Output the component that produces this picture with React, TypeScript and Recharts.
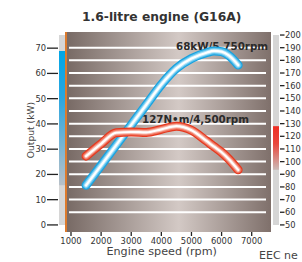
import {
  LineChart,
  Line,
  XAxis,
  YAxis,
  CartesianGrid,
  ReferenceArea,
  ReferenceLine,
} from "recharts";

const rpm = [1500, 2000, 2500, 3000, 3500, 4000, 4500, 5000, 5500, 5750, 6000, 6250, 6550];
const powerKw = [15.7, 23.6, 31.6, 39.6, 47.6, 55.6, 62.0, 65.9, 68.2, 68.9, 68.6, 67.0, 63.3];
const torqueNm = [104.3, 114.1, 122.8, 123.4, 123.1, 125.5, 128.0, 124.8, 116.3, 111.8, 107.4, 101.7, 93.5];

const rpmTicks = [1000, 2000, 3000, 4000, 5000, 6000, 7000];
const kwTicks = [0, 10, 20, 30, 40, 50, 60, 70];
const nmTicks = [50, 60, 70, 80, 90, 100, 110, 120, 130, 140, 150, 160, 170, 180, 190, 200];
const gridNm = [60, 70, 80, 90, 100, 110, 120, 130, 140, 150, 160, 170, 180, 190];

const data = rpm.map((r, i) => ({ rpm: r, kw: powerKw[i], nm: torqueNm[i] }));

const font = "DejaVu Sans, Verdana, sans-serif";

const blueLayers = [
  { w: 9, c: "#19a2df" },
  { w: 6.5, c: "#5dc3ee" },
  { w: 4.2, c: "#b3e4f8" },
  { w: 2.2, c: "#ffffff" },
];
const redLayers = [
  { w: 9, c: "#e5391f" },
  { w: 6.5, c: "#f07560" },
  { w: 4.2, c: "#f8b9ac" },
  { w: 2.2, c: "#ffffff" },
];

const LeftTick = (props: any) => {
  const { y, payload } = props;
  return (
    <g>
      <text x={46} y={y} dy="0.35em" textAnchor="end" fontSize={8.3} fill="#333" fontFamily={font}>
        {payload.value}
      </text>
      <line x1={47} x2={58} y1={y} y2={y} stroke="#222" strokeWidth={1.3} />
    </g>
  );
};

const RightTick = (props: any) => {
  const { y, payload } = props;
  return (
    <g>
      <line x1={280} x2={284.5} y1={y} y2={y} stroke="#222" strokeWidth={1.3} />
      <text x={285} y={y} dy="0.35em" textAnchor="start" fontSize={8.3} fill="#333" fontFamily={font}>
        {payload.value}
      </text>
    </g>
  );
};

const GridLine = (p: any) => (
  <line
    key={p.key ?? p.index}
    x1={p.x1 + 3}
    x2={p.x2 - 5}
    y1={p.y1}
    y2={p.y2}
    stroke="#ffffff"
    strokeWidth={2}
  />
);

export default function App() {
  return (
    <div style={{ position: "absolute", left: 0, top: 0, width: 302, height: 262, background: "#fff", overflow: "hidden" }}>
      <LineChart width={302} height={262} data={data} margin={{ top: 32, right: 0, bottom: 0, left: 0 }}>
        <defs>
          <linearGradient id="bg" x1="0" y1="0" x2="1" y2="0">
            <stop offset="0%" stopColor="#776964" />
            <stop offset="55%" stopColor="#d3c9c5" />
            <stop offset="100%" stopColor="#7f706b" />
          </linearGradient>
          <linearGradient id="kwBar" x1="0" y1="0" x2="0" y2="1">
            <stop offset="0%" stopColor="#00a6e6" />
            <stop offset="35%" stopColor="#2aa6e0" />
            <stop offset="100%" stopColor="#b8c0c8" />
          </linearGradient>
          <linearGradient id="nmBar" x1="0" y1="0" x2="0" y2="1">
            <stop offset="0%" stopColor="#ee2e24" />
            <stop offset="40%" stopColor="#e9473c" />
            <stop offset="100%" stopColor="#cbbcb9" />
          </linearGradient>
        </defs>
        <CartesianGrid
          yAxisId="nm"
          vertical={false}
          horizontalValues={gridNm}
          horizontal={GridLine}
          fill="url(#bg)"
          fillOpacity={1}
          stroke="none"
        />
        <XAxis
          dataKey="rpm"
          type="number"
          domain={[834, 7641]}
          ticks={rpmTicks}
          height={30}
          axisLine={false}
          tickSize={4}
          tickLine={{ stroke: "#222", strokeWidth: 1.3 }}
          tick={{ fontSize: 8.4, fill: "#333", fontFamily: font }}
          interval={0}
        />
        <YAxis
          yAxisId="kw"
          orientation="left"
          width={66}
          domain={[-2.8, 76.4]}
          ticks={kwTicks}
          axisLine={false}
          tickLine={false}
          tick={<LeftTick />}
          interval={0}
        />
        <YAxis
          yAxisId="nm"
          orientation="right"
          width={31}
          domain={[44.4, 202.4]}
          ticks={nmTicks}
          axisLine={false}
          tickLine={false}
          tick={<RightTick />}
          interval={0}
        />
        <ReferenceArea yAxisId="kw" x1={602} x2={801} y1={0} y2={75.2} fill="#d6d6d6" fillOpacity={1} stroke="none" ifOverflow="visible" />
        <ReferenceArea
          yAxisId="kw"
          x1={602}
          x2={801}
          y1={Math.min(...powerKw)}
          y2={Math.max(...powerKw)}
          fill="url(#kwBar)"
          fillOpacity={1}
          stroke="none"
          ifOverflow="visible"
        />
        <ReferenceArea yAxisId="nm" x1={7707} x2={7907} y1={50} y2={200} fill="#d6d6d6" fillOpacity={1} stroke="none" ifOverflow="visible" />
        <ReferenceArea
          yAxisId="nm"
          x1={7707}
          x2={7907}
          y1={Math.min(...torqueNm)}
          y2={Math.max(...torqueNm)}
          fill="url(#nmBar)"
          fillOpacity={1}
          stroke="none"
          ifOverflow="visible"
        />
        <ReferenceLine yAxisId="kw" x={834} stroke="#dc7a2c" strokeWidth={2} ifOverflow="visible" />
        {blueLayers.map((l, i) => (
          <Line
            key={"kw" + i}
            yAxisId="kw"
            type="monotone"
            dataKey="kw"
            stroke={l.c}
            strokeWidth={l.w}
            strokeLinecap="round"
            strokeLinejoin="round"
            dot={false}
            activeDot={false}
            isAnimationActive={false}
          />
        ))}
        {redLayers.map((l, i) => (
          <Line
            key={"nm" + i}
            yAxisId="nm"
            type="monotone"
            dataKey="nm"
            stroke={l.c}
            strokeWidth={l.w}
            strokeLinecap="round"
            strokeLinejoin="round"
            dot={false}
            activeDot={false}
            isAnimationActive={false}
          />
        ))}
        <text x={161.7} y={21} textAnchor="middle" fontSize={12.3} fontWeight="bold" fill="#333" fontFamily={font}>
          1.6-litre engine (G16A)
        </text>
        <text x={176} y={49.5} fontSize={10.3} fontWeight="bold" fill="#2a2a2a" fontFamily={font}>
          68kW/5,750rpm
        </text>
        <text x={142} y={123} fontSize={10.3} fontWeight="bold" fill="#2a2a2a" fontFamily={font}>
          127N•m/4,500rpm
        </text>
        <text
          x={30}
          y={130}
          transform="rotate(-90 30 130)"
          textAnchor="middle"
          dominantBaseline="central"
          fontSize={9.2}
          fill="#444"
          fontFamily={font}
        >
          Output (kW)
        </text>
        <text x={161.7} y={255} textAnchor="middle" fontSize={11.2} fill="#444" fontFamily={font}>
          Engine speed (rpm)
        </text>
        <text x={259} y={258.5} fontSize={11} fill="#444" fontFamily={font}>
          EEC ne
        </text>
      </LineChart>
    </div>
  );
}
